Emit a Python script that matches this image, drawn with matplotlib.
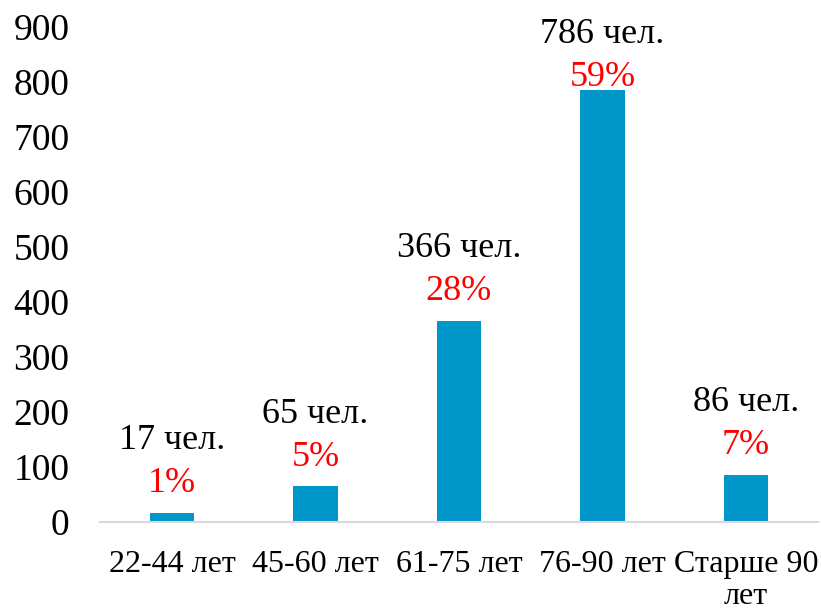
import matplotlib
matplotlib.use('Agg')
import matplotlib.pyplot as plt

categories = ['22-44 лет', '45-60 лет', '61-75 лет', '76-90 лет', 'Старше 90\nлет']
counts = [17, 65, 366, 786, 86]
percents = ['1%', '5%', '28%', '59%', '7%']

# labels of tall bars are pushed down so they stay inside the chart
label_cap = 755

plt.rcParams['font.family'] = ['Liberation Serif', 'DejaVu Serif']

fig = plt.figure(figsize=(8.21, 6.10), dpi=100)
ax = fig.add_axes([0.122, 0.144, 0.874, 0.812])

x = range(len(categories))
ax.bar(x, counts, width=0.31, color='#0096C8')

for i, (c, p) in enumerate(zip(counts, percents)):
    y = min(c, label_cap)
    ax.annotate(p, (i, y), xytext=(0, 9), textcoords='offset points',
                ha='center', va='bottom', fontsize=26, color='#FF0000')
    ax.annotate(f'{c} чел.', (i, y), xytext=(0, 40), textcoords='offset points',
                ha='center', va='bottom', fontsize=26, color='black')

ax.set_xlim(-0.5, len(categories) - 0.5)
ax.set_ylim(0, 900)
ax.set_yticks(range(0, 901, 100))
ax.set_xticks(list(x))
ax.set_xticklabels(categories, fontsize=23, linespacing=1.15)
ax.tick_params(axis='y', length=0, pad=22, labelsize=27)
ax.tick_params(axis='x', length=0, pad=20)

for side in ['top', 'right', 'left']:
    ax.spines[side].set_visible(False)
ax.spines['bottom'].set_color('#D9D9D9')
ax.spines['bottom'].set_linewidth(1.5)

fig.savefig('out.png', dpi=100)
